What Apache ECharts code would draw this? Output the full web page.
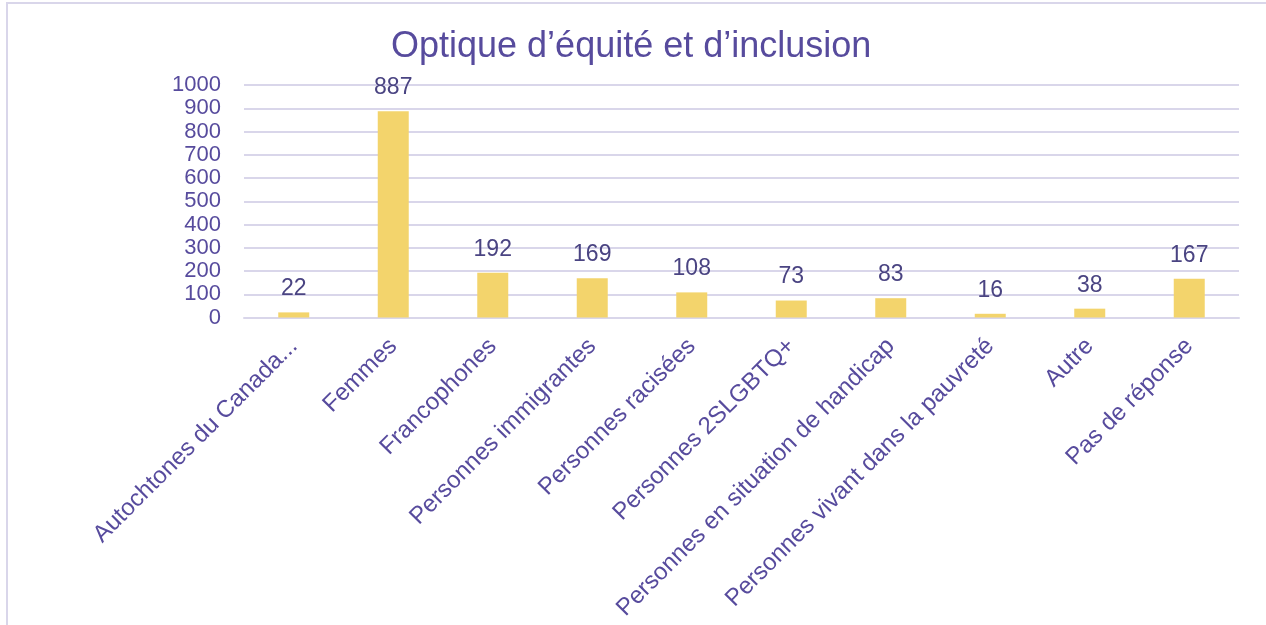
<!DOCTYPE html>
<html>
<head>
<meta charset="utf-8">
<script src="https://cdn.jsdelivr.net/npm/echarts@6/dist/echarts.min.js"></script>
<style>
html,body{margin:0;padding:0;background:#fff;}
#c{width:1266px;height:625px;}
</style>
</head>
<body>
<div id="c"></div>
<script>
const titleText = "Optique d\u2019équité et d\u2019inclusion";
const categories = [
  "Autochtones du Canada...",
  "Femmes",
  "Francophones",
  "Personnes immigrantes",
  "Personnes racisées",
  "Personnes 2SLGBTQ+",
  "Personnes en situation de handicap",
  "Personnes vivant dans la pauvreté",
  "Autre",
  "Pas de réponse"
];
const values = [22, 887, 192, 169, 108, 73, 83, 16, 38, 167];

const chart = echarts.init(document.getElementById('c'), null, {renderer: 'canvas'});
const font = 'Liberation Sans, Arial, sans-serif';
chart.setOption({
  animation: false,
  backgroundColor: '#ffffff',
  graphic: [{
    type: 'rect',
    shape: {x: 7, y: 3, width: 1280, height: 660},
    style: {fill: 'none', stroke: '#D9D6EA', lineWidth: 2},
    silent: true
  }],
  title: {
    text: titleText,
    left: 386,
    top: 24,
    textStyle: {fontFamily: font, fontSize: 36, fontWeight: 'normal', color: '#574B9D'}
  },
  grid: {left: 244, right: 27, top: 85, bottom: 307.5, containLabel: false},
  xAxis: {
    type: 'category',
    data: categories,
    axisLine: {show: true, lineStyle: {color: '#D9D6EA', width: 2}},
    axisTick: {show: false},
    axisLabel: {
      interval: 0,
      rotate: 45,
      margin: 25,
      fontFamily: font,
      fontSize: 24,
      color: '#574B9D'
    }
  },
  yAxis: {
    type: 'value',
    min: 0,
    max: 1000,
    interval: 100,
    axisLine: {show: false},
    axisTick: {show: false},
    splitLine: {lineStyle: {color: '#D9D6EA', width: 2}},
    axisLabel: {margin: 23, fontFamily: font, fontSize: 22, color: '#574B9D',
      formatter: function (v) { return String(v); }}
  },
  series: [{
    type: 'bar',
    data: values,
    barWidth: 31,
    itemStyle: {color: '#F3D46C'},
    label: {
      show: true,
      position: 'top',
      distance: 12,
      fontFamily: font,
      fontSize: 23,
      color: '#4A4482'
    }
  }]
});
</script>
</body>
</html>
